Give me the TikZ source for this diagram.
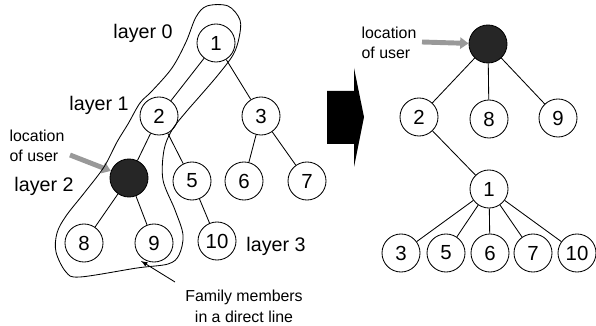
\documentclass[tikz,border=0pt]{standalone}
\usepackage{fontspec}
\setmainfont{Liberation Sans}
\usetikzlibrary{arrows.meta}

\tikzset{
  member/.style={draw,circle,line width=0.6pt,minimum size=0.95cm,inner sep=0pt,font=\fontsize{14.5}{16}\selectfont},
  userdot/.style={member,fill=black!85},
  layertext/.style={font=\fontsize{14}{16}\selectfont},
  smalltext/.style={font=\fontsize{11.3}{14.2}\selectfont,align=left,inner sep=0pt},
  userarrow/.style={line width=3.5pt,draw=black!40,-{Triangle[length=6pt,width=8pt]}},
}

\begin{document}
\begin{tikzpicture}[x=0.025cm,y=-0.025cm,line width=0.6pt]
\useasboundingbox (0,0) rectangle (596,326);

% family tree before
\node[member]  (n1) at (216,43)  {1};
\node[member]  (n2) at (159,116) {2};
\node[member]  (n3) at (261,116) {3};
\node[userdot] (uL) at (129,178) {};
\node[member]  (n5) at (192,181) {5};
\node[member]  (n6) at (244,181) {6};
\node[member]  (n7) at (307,181) {7};
\node[member]  (n8) at (84,243)  {8};
\node[member]  (n9) at (154,243) {9};
\node[member]  (n10) at (217,241) {10};

\draw (n1) -- (n2);
\draw (n1) -- (n3);
\draw (n2) -- (uL);
\draw (n2) -- (n5);
\draw (n3) -- (n6);
\draw (n3) -- (n7);
\draw (uL) -- (n8);
\draw (uL) -- (n9);
\draw (n5) -- (n10);

\node[layertext] (lay0) at (143,33)  {layer 0};
\node[layertext] (lay1) at (99,105)  {layer 1};
\node[layertext] (lay2) at (44,186)  {layer 2};
\node[layertext] (lay3) at (276,246) {layer 3};

\node[smalltext] (locL) at (37,146) {location\\of user};
\coordinate (locLtail) at (70,155);
\draw[userarrow] (locLtail) -- (uL);

% direct line
\draw plot[smooth cycle,tension=0.55] coordinates {
  (207,6) (228,6) (240,20) (239,38) (233,55) (218,75) (200,96) (186,112)
  (172,130) (164,150) (163,180) (175,210) (183,235) (179,255) (168,264)
  (137,268) (80,277) (66,272) (56,252) (57,233) (66,216) (85,192)
  (104,167) (117,142) (128,124) (140,103) (152,91) (172,68) (186,42) (196,17)};

\node[smalltext,align=center,font=\fontsize{11.3}{15}\selectfont] (fam) at (244,306) {Family members\\in a direct line};
\coordinate (famtail) at (175,282);
\coordinate (famhead) at (141,261);
\draw[-latex] (famtail) -- (famhead);

% big arrow
\fill (327,91) -- (354,91) -- (354,68) -- (364,117) -- (354,167) -- (354,144) -- (327,144) -- cycle;

% family tree after
\node[userdot] (uR) at (488,44)  {};
\node[member]  (m2) at (419,117) {2};
\node[member]  (m8) at (489,119) {8};
\node[member]  (m9) at (558,118) {9};
\node[member]  (m1) at (489,189) {1};
\node[member]  (m3) at (401,253) {3};
\node[member]  (m5) at (446,253) {5};
\node[member]  (m6) at (490,253) {6};
\node[member]  (m7) at (533,253) {7};
\node[member]  (m10) at (577,253) {10};

\draw (uR) -- (m2);
\draw (uR) -- (m8);
\draw (uR) -- (m9);
\draw (m2) -- (m1);
\foreach \k in {3,5,6,7,10} {
  \draw (m1) -- (m\k);
}

\node[smalltext] (locR) at (389,43) {location\\of user};
\coordinate (locRtail) at (422,42);
\draw[userarrow] (locRtail) -- (uR);

\end{tikzpicture}
\end{document}
